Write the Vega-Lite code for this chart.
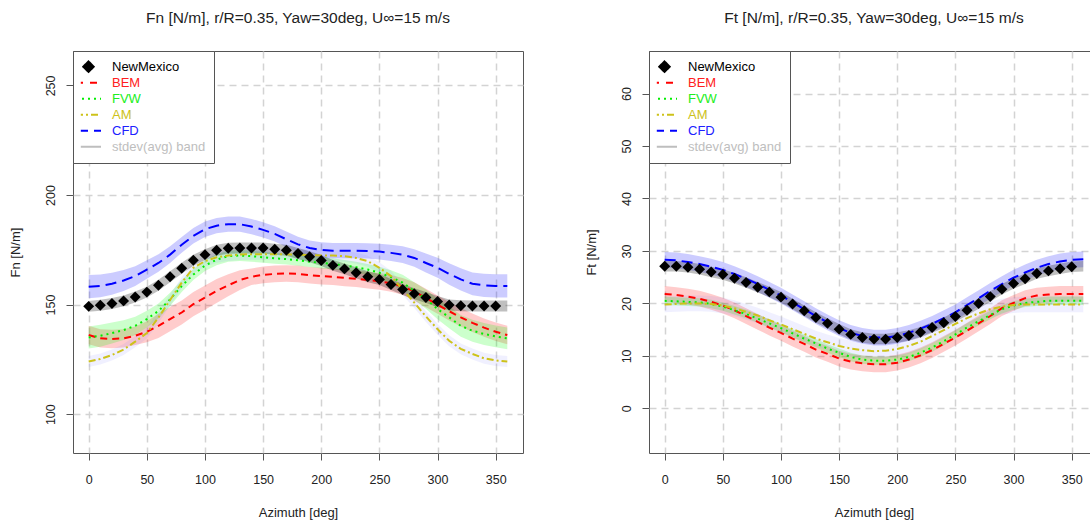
{
  "$schema": "https://vega.github.io/schema/vega-lite/v6.json",
  "background": "white",
  "padding": {"left": 8, "top": 10, "right": 0, "bottom": 0},
  "spacing": 60,
  "config": {
    "font": "Liberation Sans",
    "view": {"stroke": "#555555", "strokeWidth": 1, "fill": "white"},
    "axis": {"domain": false, "grid": true, "gridColor": "#d3d3d3", "gridDash": [7, 5], "gridWidth": 1.5, "tickColor": "#555555", "tickSize": 7, "labelFontSize": 12.5, "labelColor": "#222222", "titleFontSize": 13, "titleFontWeight": "normal", "titleColor": "#222222", "labelFlush": false, "labelOverlap": false},
    "title": {"fontSize": 15.5, "fontWeight": "normal", "color": "#222222", "offset": 24, "frame": "group", "anchor": "middle"}
  },
  "datasets": {
    "fn": [
      {"s":"CFD","a":0,"y":158.2,"lo":152.9,"hi":163.5},{"s":"CFD","a":10,"y":158.5,"lo":153.3,"hi":163.7},{"s":"CFD","a":20,"y":159.5,"lo":154.5,"hi":164.5},{"s":"CFD","a":30,"y":161.0,"lo":156.2,"hi":165.8},{"s":"CFD","a":40,"y":163.0,"lo":158.5,"hi":167.5},{"s":"CFD","a":50,"y":166.0,"lo":161.8,"hi":170.2},{"s":"CFD","a":60,"y":169.0,"lo":165.0,"hi":173.0},{"s":"CFD","a":70,"y":172.8,"lo":169.0,"hi":176.6},{"s":"CFD","a":80,"y":177.3,"lo":173.7,"hi":180.9},{"s":"CFD","a":90,"y":181.4,"lo":177.9,"hi":184.9},{"s":"CFD","a":100,"y":184.4,"lo":180.9,"hi":187.9},{"s":"CFD","a":110,"y":186.0,"lo":182.5,"hi":189.5},{"s":"CFD","a":120,"y":186.7,"lo":183.2,"hi":190.2},{"s":"CFD","a":130,"y":186.7,"lo":183.2,"hi":190.2},{"s":"CFD","a":140,"y":185.6,"lo":182.1,"hi":189.1},{"s":"CFD","a":150,"y":184.1,"lo":180.6,"hi":187.6},{"s":"CFD","a":160,"y":182.3,"lo":178.8,"hi":185.8},{"s":"CFD","a":170,"y":179.8,"lo":176.3,"hi":183.3},{"s":"CFD","a":180,"y":177.5,"lo":174.0,"hi":181.0},{"s":"CFD","a":190,"y":175.8,"lo":172.3,"hi":179.3},{"s":"CFD","a":200,"y":174.9,"lo":171.4,"hi":178.4},{"s":"CFD","a":210,"y":174.6,"lo":171.1,"hi":178.1},{"s":"CFD","a":220,"y":174.6,"lo":171.1,"hi":178.1},{"s":"CFD","a":230,"y":174.6,"lo":171.1,"hi":178.1},{"s":"CFD","a":240,"y":174.5,"lo":171.0,"hi":178.0},{"s":"CFD","a":250,"y":174.2,"lo":170.6,"hi":177.8},{"s":"CFD","a":260,"y":173.6,"lo":169.9,"hi":177.3},{"s":"CFD","a":270,"y":172.8,"lo":169.0,"hi":176.6},{"s":"CFD","a":280,"y":171.3,"lo":167.3,"hi":175.3},{"s":"CFD","a":290,"y":169.0,"lo":164.7,"hi":173.3},{"s":"CFD","a":300,"y":166.8,"lo":162.2,"hi":171.4},{"s":"CFD","a":310,"y":164.0,"lo":159.1,"hi":168.9},{"s":"CFD","a":320,"y":161.5,"lo":156.4,"hi":166.6},{"s":"CFD","a":330,"y":159.5,"lo":154.3,"hi":164.7},{"s":"CFD","a":340,"y":158.8,"lo":153.5,"hi":164.1},{"s":"CFD","a":350,"y":158.5,"lo":153.2,"hi":163.8},{"s":"CFD","a":360,"y":158.5,"lo":153.2,"hi":163.8},
      {"s":"BEM","a":0,"y":136.1,"lo":131.9,"hi":140.3},{"s":"BEM","a":10,"y":134.6,"lo":130.4,"hi":138.8},{"s":"BEM","a":20,"y":134.3,"lo":130.1,"hi":138.5},{"s":"BEM","a":30,"y":134.6,"lo":130.4,"hi":138.8},{"s":"BEM","a":40,"y":135.8,"lo":131.6,"hi":140.0},{"s":"BEM","a":50,"y":137.6,"lo":132.8,"hi":142.4},{"s":"BEM","a":60,"y":140.3,"lo":134.8,"hi":145.8},{"s":"BEM","a":70,"y":143.4,"lo":137.9,"hi":148.9},{"s":"BEM","a":80,"y":146.4,"lo":140.9,"hi":151.9},{"s":"BEM","a":90,"y":150.2,"lo":144.7,"hi":155.7},{"s":"BEM","a":100,"y":153.2,"lo":147.7,"hi":158.7},{"s":"BEM","a":110,"y":156.2,"lo":150.7,"hi":161.7},{"s":"BEM","a":120,"y":158.8,"lo":153.8,"hi":163.8},{"s":"BEM","a":130,"y":161.2,"lo":156.7,"hi":165.7},{"s":"BEM","a":140,"y":162.7,"lo":158.9,"hi":166.5},{"s":"BEM","a":150,"y":163.6,"lo":159.8,"hi":167.4},{"s":"BEM","a":160,"y":164.0,"lo":160.2,"hi":167.8},{"s":"BEM","a":170,"y":164.2,"lo":160.4,"hi":168.0},{"s":"BEM","a":180,"y":164.0,"lo":160.2,"hi":167.8},{"s":"BEM","a":190,"y":163.4,"lo":159.6,"hi":167.2},{"s":"BEM","a":200,"y":163.0,"lo":159.2,"hi":166.8},{"s":"BEM","a":210,"y":162.7,"lo":158.9,"hi":166.5},{"s":"BEM","a":220,"y":162.2,"lo":158.4,"hi":166.0},{"s":"BEM","a":230,"y":161.8,"lo":158.0,"hi":165.6},{"s":"BEM","a":240,"y":161.2,"lo":157.4,"hi":165.0},{"s":"BEM","a":250,"y":160.6,"lo":156.8,"hi":164.4},{"s":"BEM","a":260,"y":159.7,"lo":155.9,"hi":163.5},{"s":"BEM","a":270,"y":158.3,"lo":154.5,"hi":162.1},{"s":"BEM","a":280,"y":156.0,"lo":151.8,"hi":160.2},{"s":"BEM","a":290,"y":153.0,"lo":148.8,"hi":157.2},{"s":"BEM","a":300,"y":150.0,"lo":145.8,"hi":154.2},{"s":"BEM","a":310,"y":147.0,"lo":142.8,"hi":151.2},{"s":"BEM","a":320,"y":144.2,"lo":140.0,"hi":148.4},{"s":"BEM","a":330,"y":141.7,"lo":137.5,"hi":145.9},{"s":"BEM","a":340,"y":139.5,"lo":135.3,"hi":143.7},{"s":"BEM","a":350,"y":137.6,"lo":133.4,"hi":141.8},{"s":"BEM","a":360,"y":136.1,"lo":131.9,"hi":140.3},
      {"s":"FVW","a":0,"y":135.0,"lo":130.0,"hi":140.0},{"s":"FVW","a":10,"y":135.8,"lo":130.8,"hi":140.8},{"s":"FVW","a":20,"y":137.0,"lo":132.2,"hi":141.8},{"s":"FVW","a":30,"y":138.4,"lo":133.9,"hi":142.9},{"s":"FVW","a":40,"y":140.3,"lo":136.1,"hi":144.5},{"s":"FVW","a":50,"y":143.4,"lo":139.6,"hi":147.2},{"s":"FVW","a":60,"y":147.1,"lo":143.7,"hi":150.5},{"s":"FVW","a":70,"y":152.4,"lo":149.4,"hi":155.4},{"s":"FVW","a":80,"y":158.5,"lo":155.8,"hi":161.2},{"s":"FVW","a":90,"y":163.7,"lo":161.2,"hi":166.2},{"s":"FVW","a":100,"y":167.8,"lo":165.3,"hi":170.3},{"s":"FVW","a":110,"y":170.5,"lo":168.0,"hi":173.0},{"s":"FVW","a":120,"y":172.1,"lo":169.6,"hi":174.6},{"s":"FVW","a":130,"y":172.4,"lo":169.9,"hi":174.9},{"s":"FVW","a":140,"y":172.1,"lo":169.6,"hi":174.6},{"s":"FVW","a":150,"y":171.6,"lo":169.1,"hi":174.1},{"s":"FVW","a":160,"y":171.1,"lo":168.6,"hi":173.6},{"s":"FVW","a":170,"y":170.8,"lo":168.3,"hi":173.3},{"s":"FVW","a":180,"y":170.2,"lo":167.7,"hi":172.7},{"s":"FVW","a":190,"y":169.6,"lo":167.1,"hi":172.1},{"s":"FVW","a":200,"y":169.0,"lo":166.5,"hi":171.5},{"s":"FVW","a":210,"y":168.6,"lo":166.1,"hi":171.1},{"s":"FVW","a":220,"y":167.8,"lo":165.3,"hi":170.3},{"s":"FVW","a":230,"y":167.1,"lo":164.6,"hi":169.6},{"s":"FVW","a":240,"y":166.0,"lo":163.5,"hi":168.5},{"s":"FVW","a":250,"y":164.5,"lo":161.7,"hi":167.3},{"s":"FVW","a":260,"y":162.5,"lo":159.3,"hi":165.7},{"s":"FVW","a":270,"y":160.0,"lo":156.4,"hi":163.6},{"s":"FVW","a":280,"y":156.2,"lo":152.2,"hi":160.2},{"s":"FVW","a":290,"y":152.5,"lo":148.1,"hi":156.9},{"s":"FVW","a":300,"y":148.0,"lo":143.3,"hi":152.7},{"s":"FVW","a":310,"y":144.2,"lo":139.2,"hi":149.2},{"s":"FVW","a":320,"y":140.3,"lo":135.3,"hi":145.3},{"s":"FVW","a":330,"y":138.1,"lo":133.1,"hi":143.1},{"s":"FVW","a":340,"y":136.6,"lo":131.6,"hi":141.6},{"s":"FVW","a":350,"y":135.5,"lo":130.5,"hi":140.5},{"s":"FVW","a":360,"y":134.6,"lo":129.6,"hi":139.6},
      {"s":"AM","a":0,"y":124.0,"lo":121.5,"hi":126.5},{"s":"AM","a":10,"y":125.2,"lo":122.7,"hi":127.7},{"s":"AM","a":20,"y":127.0,"lo":124.5,"hi":129.5},{"s":"AM","a":30,"y":129.5,"lo":127.0,"hi":132.0},{"s":"AM","a":40,"y":133.1,"lo":130.6,"hi":135.6},{"s":"AM","a":50,"y":137.0,"lo":134.5,"hi":139.5},{"s":"AM","a":60,"y":144.1,"lo":141.6,"hi":146.6},{"s":"AM","a":70,"y":152.1,"lo":149.6,"hi":154.6},{"s":"AM","a":80,"y":160.0,"lo":157.5,"hi":162.5},{"s":"AM","a":90,"y":166.8,"lo":164.3,"hi":169.3},{"s":"AM","a":100,"y":169.8,"lo":167.3,"hi":172.3},{"s":"AM","a":110,"y":171.6,"lo":169.1,"hi":174.1},{"s":"AM","a":120,"y":172.4,"lo":169.9,"hi":174.9},{"s":"AM","a":130,"y":172.8,"lo":170.3,"hi":175.3},{"s":"AM","a":140,"y":173.0,"lo":170.5,"hi":175.5},{"s":"AM","a":150,"y":173.0,"lo":170.5,"hi":175.5},{"s":"AM","a":160,"y":173.0,"lo":170.5,"hi":175.5},{"s":"AM","a":170,"y":173.0,"lo":170.5,"hi":175.5},{"s":"AM","a":180,"y":172.8,"lo":170.3,"hi":175.3},{"s":"AM","a":190,"y":172.6,"lo":170.1,"hi":175.1},{"s":"AM","a":200,"y":172.4,"lo":169.9,"hi":174.9},{"s":"AM","a":210,"y":172.4,"lo":169.9,"hi":174.9},{"s":"AM","a":220,"y":172.1,"lo":169.6,"hi":174.6},{"s":"AM","a":230,"y":171.3,"lo":168.8,"hi":173.8},{"s":"AM","a":240,"y":169.8,"lo":167.3,"hi":172.3},{"s":"AM","a":250,"y":166.8,"lo":164.3,"hi":169.3},{"s":"AM","a":260,"y":163.0,"lo":160.5,"hi":165.5},{"s":"AM","a":270,"y":156.9,"lo":154.4,"hi":159.4},{"s":"AM","a":280,"y":150.9,"lo":148.4,"hi":153.4},{"s":"AM","a":290,"y":144.6,"lo":142.1,"hi":147.1},{"s":"AM","a":300,"y":138.8,"lo":136.3,"hi":141.3},{"s":"AM","a":310,"y":133.5,"lo":131.0,"hi":136.0},{"s":"AM","a":320,"y":129.8,"lo":127.3,"hi":132.3},{"s":"AM","a":330,"y":127.5,"lo":125.0,"hi":130.0},{"s":"AM","a":340,"y":125.5,"lo":123.0,"hi":128.0},{"s":"AM","a":350,"y":124.5,"lo":122.0,"hi":127.0},{"s":"AM","a":360,"y":124.0,"lo":121.5,"hi":126.5},
      {"s":"NewMexico","a":0,"y":149.2,"lo":146.7,"hi":151.7},{"s":"NewMexico","a":10,"y":149.7,"lo":147.2,"hi":152.2},{"s":"NewMexico","a":20,"y":150.5,"lo":148.0,"hi":153.0},{"s":"NewMexico","a":30,"y":151.7,"lo":149.2,"hi":154.2},{"s":"NewMexico","a":40,"y":153.5,"lo":151.0,"hi":156.0},{"s":"NewMexico","a":50,"y":155.7,"lo":153.2,"hi":158.2},{"s":"NewMexico","a":60,"y":158.8,"lo":156.3,"hi":161.3},{"s":"NewMexico","a":70,"y":162.7,"lo":160.2,"hi":165.2},{"s":"NewMexico","a":80,"y":166.6,"lo":164.1,"hi":169.1},{"s":"NewMexico","a":90,"y":170.2,"lo":167.7,"hi":172.7},{"s":"NewMexico","a":100,"y":172.8,"lo":170.3,"hi":175.3},{"s":"NewMexico","a":110,"y":174.8,"lo":172.3,"hi":177.3},{"s":"NewMexico","a":120,"y":175.7,"lo":173.2,"hi":178.2},{"s":"NewMexico","a":130,"y":175.8,"lo":173.3,"hi":178.3},{"s":"NewMexico","a":140,"y":175.8,"lo":173.3,"hi":178.3},{"s":"NewMexico","a":150,"y":175.8,"lo":173.3,"hi":178.3},{"s":"NewMexico","a":160,"y":175.3,"lo":172.8,"hi":177.8},{"s":"NewMexico","a":170,"y":174.8,"lo":172.3,"hi":177.3},{"s":"NewMexico","a":180,"y":173.3,"lo":170.8,"hi":175.8},{"s":"NewMexico","a":190,"y":171.8,"lo":169.3,"hi":174.3},{"s":"NewMexico","a":200,"y":170.1,"lo":167.6,"hi":172.6},{"s":"NewMexico","a":210,"y":167.9,"lo":165.4,"hi":170.4},{"s":"NewMexico","a":220,"y":166.3,"lo":163.8,"hi":168.8},{"s":"NewMexico","a":230,"y":164.5,"lo":162.0,"hi":167.0},{"s":"NewMexico","a":240,"y":162.7,"lo":160.2,"hi":165.2},{"s":"NewMexico","a":250,"y":161.5,"lo":159.0,"hi":164.0},{"s":"NewMexico","a":260,"y":159.2,"lo":156.7,"hi":161.7},{"s":"NewMexico","a":270,"y":156.9,"lo":154.4,"hi":159.4},{"s":"NewMexico","a":280,"y":155.0,"lo":152.5,"hi":157.5},{"s":"NewMexico","a":290,"y":153.2,"lo":150.7,"hi":155.7},{"s":"NewMexico","a":300,"y":151.4,"lo":148.9,"hi":153.9},{"s":"NewMexico","a":310,"y":149.8,"lo":147.3,"hi":152.3},{"s":"NewMexico","a":320,"y":149.5,"lo":147.0,"hi":152.0},{"s":"NewMexico","a":330,"y":149.4,"lo":146.9,"hi":151.9},{"s":"NewMexico","a":340,"y":149.4,"lo":146.9,"hi":151.9},{"s":"NewMexico","a":350,"y":149.4,"lo":146.9,"hi":151.9},{"s":"NewMexico","a":360,"y":149.4,"lo":146.9,"hi":151.9}
    ],
    "ft": [
      {"s":"CFD","a":0,"y":28.3,"lo":26.8,"hi":29.8},{"s":"CFD","a":10,"y":28.2,"lo":26.7,"hi":29.7},{"s":"CFD","a":20,"y":27.9,"lo":26.4,"hi":29.4},{"s":"CFD","a":30,"y":27.5,"lo":26.0,"hi":29.0},{"s":"CFD","a":40,"y":27.0,"lo":25.5,"hi":28.5},{"s":"CFD","a":50,"y":26.4,"lo":24.9,"hi":27.9},{"s":"CFD","a":60,"y":25.6,"lo":24.1,"hi":27.1},{"s":"CFD","a":70,"y":24.7,"lo":23.2,"hi":26.2},{"s":"CFD","a":80,"y":23.7,"lo":22.2,"hi":25.2},{"s":"CFD","a":90,"y":22.6,"lo":21.1,"hi":24.1},{"s":"CFD","a":100,"y":21.5,"lo":20.0,"hi":23.0},{"s":"CFD","a":110,"y":20.2,"lo":18.7,"hi":21.7},{"s":"CFD","a":120,"y":18.9,"lo":17.4,"hi":20.4},{"s":"CFD","a":130,"y":17.6,"lo":16.1,"hi":19.1},{"s":"CFD","a":140,"y":16.4,"lo":14.9,"hi":17.9},{"s":"CFD","a":150,"y":15.3,"lo":13.8,"hi":16.8},{"s":"CFD","a":160,"y":14.4,"lo":12.9,"hi":15.9},{"s":"CFD","a":170,"y":13.8,"lo":12.3,"hi":15.3},{"s":"CFD","a":180,"y":13.5,"lo":12.0,"hi":15.0},{"s":"CFD","a":190,"y":13.5,"lo":12.0,"hi":15.0},{"s":"CFD","a":200,"y":13.8,"lo":12.3,"hi":15.3},{"s":"CFD","a":210,"y":14.4,"lo":12.9,"hi":15.9},{"s":"CFD","a":220,"y":15.2,"lo":13.7,"hi":16.7},{"s":"CFD","a":230,"y":16.1,"lo":14.6,"hi":17.6},{"s":"CFD","a":240,"y":17.2,"lo":15.7,"hi":18.7},{"s":"CFD","a":250,"y":18.3,"lo":16.8,"hi":19.8},{"s":"CFD","a":260,"y":19.7,"lo":18.2,"hi":21.2},{"s":"CFD","a":270,"y":21.0,"lo":19.5,"hi":22.5},{"s":"CFD","a":280,"y":22.4,"lo":20.9,"hi":23.9},{"s":"CFD","a":290,"y":23.7,"lo":22.2,"hi":25.2},{"s":"CFD","a":300,"y":24.9,"lo":23.4,"hi":26.4},{"s":"CFD","a":310,"y":25.9,"lo":24.4,"hi":27.4},{"s":"CFD","a":320,"y":26.8,"lo":25.3,"hi":28.3},{"s":"CFD","a":330,"y":27.5,"lo":26.0,"hi":29.0},{"s":"CFD","a":340,"y":28.0,"lo":26.5,"hi":29.5},{"s":"CFD","a":350,"y":28.3,"lo":26.8,"hi":29.8},{"s":"CFD","a":360,"y":28.4,"lo":26.9,"hi":29.9},
      {"s":"BEM","a":0,"y":21.8,"lo":20.3,"hi":23.3},{"s":"BEM","a":10,"y":21.6,"lo":20.1,"hi":23.1},{"s":"BEM","a":20,"y":21.3,"lo":19.8,"hi":22.8},{"s":"BEM","a":30,"y":20.9,"lo":19.4,"hi":22.4},{"s":"BEM","a":40,"y":20.3,"lo":18.8,"hi":21.8},{"s":"BEM","a":50,"y":19.6,"lo":18.1,"hi":21.1},{"s":"BEM","a":60,"y":18.7,"lo":17.2,"hi":20.2},{"s":"BEM","a":70,"y":17.6,"lo":16.1,"hi":19.1},{"s":"BEM","a":80,"y":16.5,"lo":15.0,"hi":18.0},{"s":"BEM","a":90,"y":15.4,"lo":13.9,"hi":16.9},{"s":"BEM","a":100,"y":14.4,"lo":12.9,"hi":15.9},{"s":"BEM","a":110,"y":13.3,"lo":11.8,"hi":14.8},{"s":"BEM","a":120,"y":12.3,"lo":10.8,"hi":13.8},{"s":"BEM","a":130,"y":11.2,"lo":9.7,"hi":12.7},{"s":"BEM","a":140,"y":10.4,"lo":8.9,"hi":11.9},{"s":"BEM","a":150,"y":9.5,"lo":8.0,"hi":11.0},{"s":"BEM","a":160,"y":8.9,"lo":7.4,"hi":10.4},{"s":"BEM","a":170,"y":8.6,"lo":7.1,"hi":10.1},{"s":"BEM","a":180,"y":8.4,"lo":6.9,"hi":9.9},{"s":"BEM","a":190,"y":8.4,"lo":6.9,"hi":9.9},{"s":"BEM","a":200,"y":8.7,"lo":7.2,"hi":10.2},{"s":"BEM","a":210,"y":9.3,"lo":7.8,"hi":10.8},{"s":"BEM","a":220,"y":10.1,"lo":8.6,"hi":11.6},{"s":"BEM","a":230,"y":11.1,"lo":9.6,"hi":12.6},{"s":"BEM","a":240,"y":12.3,"lo":10.8,"hi":13.8},{"s":"BEM","a":250,"y":13.5,"lo":12.0,"hi":15.0},{"s":"BEM","a":260,"y":14.8,"lo":13.3,"hi":16.3},{"s":"BEM","a":270,"y":16.2,"lo":14.7,"hi":17.7},{"s":"BEM","a":280,"y":17.6,"lo":16.1,"hi":19.1},{"s":"BEM","a":290,"y":19.1,"lo":17.6,"hi":20.6},{"s":"BEM","a":300,"y":20.1,"lo":18.6,"hi":21.6},{"s":"BEM","a":310,"y":21.0,"lo":19.5,"hi":22.5},{"s":"BEM","a":320,"y":21.5,"lo":20.0,"hi":23.0},{"s":"BEM","a":330,"y":21.7,"lo":20.2,"hi":23.2},{"s":"BEM","a":340,"y":21.8,"lo":20.3,"hi":23.3},{"s":"BEM","a":350,"y":21.8,"lo":20.3,"hi":23.3},{"s":"BEM","a":360,"y":21.8,"lo":20.3,"hi":23.3},
      {"s":"FVW","a":0,"y":20.5,"lo":19.7,"hi":21.3},{"s":"FVW","a":10,"y":20.4,"lo":19.6,"hi":21.2},{"s":"FVW","a":20,"y":20.3,"lo":19.5,"hi":21.1},{"s":"FVW","a":30,"y":20.2,"lo":19.4,"hi":21.0},{"s":"FVW","a":40,"y":19.9,"lo":19.1,"hi":20.7},{"s":"FVW","a":50,"y":19.4,"lo":18.6,"hi":20.2},{"s":"FVW","a":60,"y":18.7,"lo":17.9,"hi":19.5},{"s":"FVW","a":70,"y":18.0,"lo":17.2,"hi":18.8},{"s":"FVW","a":80,"y":17.1,"lo":16.3,"hi":17.9},{"s":"FVW","a":90,"y":16.2,"lo":15.4,"hi":17.0},{"s":"FVW","a":100,"y":15.3,"lo":14.5,"hi":16.1},{"s":"FVW","a":110,"y":14.3,"lo":13.5,"hi":15.1},{"s":"FVW","a":120,"y":13.3,"lo":12.5,"hi":14.1},{"s":"FVW","a":130,"y":12.4,"lo":11.6,"hi":13.2},{"s":"FVW","a":140,"y":11.4,"lo":10.6,"hi":12.2},{"s":"FVW","a":150,"y":10.6,"lo":9.8,"hi":11.4},{"s":"FVW","a":160,"y":9.8,"lo":9.0,"hi":10.6},{"s":"FVW","a":170,"y":9.3,"lo":8.5,"hi":10.1},{"s":"FVW","a":180,"y":9.1,"lo":8.3,"hi":9.9},{"s":"FVW","a":190,"y":9.1,"lo":8.3,"hi":9.9},{"s":"FVW","a":200,"y":9.3,"lo":8.5,"hi":10.1},{"s":"FVW","a":210,"y":9.8,"lo":9.0,"hi":10.6},{"s":"FVW","a":220,"y":10.6,"lo":9.8,"hi":11.4},{"s":"FVW","a":230,"y":11.6,"lo":10.8,"hi":12.4},{"s":"FVW","a":240,"y":12.8,"lo":12.0,"hi":13.6},{"s":"FVW","a":250,"y":14.1,"lo":13.3,"hi":14.9},{"s":"FVW","a":260,"y":15.4,"lo":14.6,"hi":16.2},{"s":"FVW","a":270,"y":16.6,"lo":15.8,"hi":17.4},{"s":"FVW","a":280,"y":17.8,"lo":17.0,"hi":18.6},{"s":"FVW","a":290,"y":18.9,"lo":18.1,"hi":19.7},{"s":"FVW","a":300,"y":19.6,"lo":18.8,"hi":20.4},{"s":"FVW","a":310,"y":20.1,"lo":19.3,"hi":20.9},{"s":"FVW","a":320,"y":20.3,"lo":19.5,"hi":21.1},{"s":"FVW","a":330,"y":20.5,"lo":19.7,"hi":21.3},{"s":"FVW","a":340,"y":20.5,"lo":19.7,"hi":21.3},{"s":"FVW","a":350,"y":20.5,"lo":19.7,"hi":21.3},{"s":"FVW","a":360,"y":20.5,"lo":19.7,"hi":21.3},
      {"s":"AM","a":0,"y":19.8,"lo":18.3,"hi":21.3},{"s":"AM","a":10,"y":19.9,"lo":18.4,"hi":21.4},{"s":"AM","a":20,"y":20.0,"lo":18.5,"hi":21.5},{"s":"AM","a":30,"y":20.0,"lo":18.5,"hi":21.5},{"s":"AM","a":40,"y":19.9,"lo":18.4,"hi":21.4},{"s":"AM","a":50,"y":19.6,"lo":18.1,"hi":21.1},{"s":"AM","a":60,"y":19.1,"lo":17.6,"hi":20.6},{"s":"AM","a":70,"y":18.4,"lo":16.9,"hi":19.9},{"s":"AM","a":80,"y":17.7,"lo":16.2,"hi":19.2},{"s":"AM","a":90,"y":16.8,"lo":15.3,"hi":18.3},{"s":"AM","a":100,"y":16.0,"lo":14.5,"hi":17.5},{"s":"AM","a":110,"y":15.1,"lo":13.6,"hi":16.6},{"s":"AM","a":120,"y":14.2,"lo":12.7,"hi":15.7},{"s":"AM","a":130,"y":13.3,"lo":11.8,"hi":14.8},{"s":"AM","a":140,"y":12.6,"lo":11.1,"hi":14.1},{"s":"AM","a":150,"y":11.9,"lo":10.4,"hi":13.4},{"s":"AM","a":160,"y":11.4,"lo":9.9,"hi":12.9},{"s":"AM","a":170,"y":11.1,"lo":9.6,"hi":12.6},{"s":"AM","a":180,"y":10.9,"lo":9.4,"hi":12.4},{"s":"AM","a":190,"y":11.0,"lo":9.5,"hi":12.5},{"s":"AM","a":200,"y":11.3,"lo":9.8,"hi":12.8},{"s":"AM","a":210,"y":11.9,"lo":10.4,"hi":13.4},{"s":"AM","a":220,"y":12.7,"lo":11.2,"hi":14.2},{"s":"AM","a":230,"y":13.8,"lo":12.3,"hi":15.3},{"s":"AM","a":240,"y":14.9,"lo":13.4,"hi":16.4},{"s":"AM","a":250,"y":16.1,"lo":14.6,"hi":17.6},{"s":"AM","a":260,"y":17.2,"lo":15.7,"hi":18.7},{"s":"AM","a":270,"y":18.1,"lo":16.6,"hi":19.6},{"s":"AM","a":280,"y":18.9,"lo":17.4,"hi":20.4},{"s":"AM","a":290,"y":19.4,"lo":17.9,"hi":20.9},{"s":"AM","a":300,"y":19.7,"lo":18.2,"hi":21.2},{"s":"AM","a":310,"y":19.8,"lo":18.3,"hi":21.3},{"s":"AM","a":320,"y":19.8,"lo":18.3,"hi":21.3},{"s":"AM","a":330,"y":19.8,"lo":18.3,"hi":21.3},{"s":"AM","a":340,"y":19.8,"lo":18.3,"hi":21.3},{"s":"AM","a":350,"y":19.8,"lo":18.3,"hi":21.3},{"s":"AM","a":360,"y":19.8,"lo":18.3,"hi":21.3},
      {"s":"NewMexico","a":0,"y":27.1,"lo":26.1,"hi":28.1},{"s":"NewMexico","a":10,"y":27.1,"lo":26.1,"hi":28.1},{"s":"NewMexico","a":20,"y":26.9,"lo":25.9,"hi":27.9},{"s":"NewMexico","a":30,"y":26.5,"lo":25.5,"hi":27.5},{"s":"NewMexico","a":40,"y":26.0,"lo":25.0,"hi":27.0},{"s":"NewMexico","a":50,"y":25.5,"lo":24.5,"hi":26.5},{"s":"NewMexico","a":60,"y":24.8,"lo":23.8,"hi":25.8},{"s":"NewMexico","a":70,"y":24.0,"lo":23.0,"hi":25.0},{"s":"NewMexico","a":80,"y":23.1,"lo":22.1,"hi":24.1},{"s":"NewMexico","a":90,"y":22.2,"lo":21.2,"hi":23.2},{"s":"NewMexico","a":100,"y":21.2,"lo":20.2,"hi":22.2},{"s":"NewMexico","a":110,"y":19.9,"lo":18.9,"hi":20.9},{"s":"NewMexico","a":120,"y":18.6,"lo":17.6,"hi":19.6},{"s":"NewMexico","a":130,"y":17.3,"lo":16.3,"hi":18.3},{"s":"NewMexico","a":140,"y":16.2,"lo":15.2,"hi":17.2},{"s":"NewMexico","a":150,"y":15.1,"lo":14.1,"hi":16.1},{"s":"NewMexico","a":160,"y":14.1,"lo":13.1,"hi":15.1},{"s":"NewMexico","a":170,"y":13.5,"lo":12.5,"hi":14.5},{"s":"NewMexico","a":180,"y":13.2,"lo":12.2,"hi":14.2},{"s":"NewMexico","a":190,"y":13.2,"lo":12.2,"hi":14.2},{"s":"NewMexico","a":200,"y":13.5,"lo":12.5,"hi":14.5},{"s":"NewMexico","a":210,"y":13.9,"lo":12.9,"hi":14.9},{"s":"NewMexico","a":220,"y":14.5,"lo":13.5,"hi":15.5},{"s":"NewMexico","a":230,"y":15.4,"lo":14.4,"hi":16.4},{"s":"NewMexico","a":240,"y":16.3,"lo":15.3,"hi":17.3},{"s":"NewMexico","a":250,"y":17.5,"lo":16.5,"hi":18.5},{"s":"NewMexico","a":260,"y":18.7,"lo":17.7,"hi":19.7},{"s":"NewMexico","a":270,"y":20.0,"lo":19.0,"hi":21.0},{"s":"NewMexico","a":280,"y":21.3,"lo":20.3,"hi":22.3},{"s":"NewMexico","a":290,"y":22.7,"lo":21.7,"hi":23.7},{"s":"NewMexico","a":300,"y":23.8,"lo":22.8,"hi":24.8},{"s":"NewMexico","a":310,"y":24.7,"lo":23.7,"hi":25.7},{"s":"NewMexico","a":320,"y":25.7,"lo":24.7,"hi":26.7},{"s":"NewMexico","a":330,"y":26.2,"lo":25.2,"hi":27.2},{"s":"NewMexico","a":340,"y":26.6,"lo":25.6,"hi":27.6},{"s":"NewMexico","a":350,"y":27.0,"lo":26.0,"hi":28.0},{"s":"NewMexico","a":360,"y":27.1,"lo":26.1,"hi":28.1}
    ]
  },
  "resolve": {"scale": {"x": "independent", "y": "independent", "color": "independent", "fill": "independent", "strokeDash": "independent"}, "legend": {"color": "independent"}},
  "hconcat": [
    {
      "width": 450, "height": 402,
      "title": {"text": "Fn [N/m], r/R=0.35, Yaw=30deg, U∞=15 m/s"},
      "data": {"name": "fn"},
      "encoding": {
        "x": {"field": "a", "type": "quantitative", "scale": {"domain": [-13.5, 373.5], "nice": false, "zero": false}, "axis": {"values": [0, 50, 100, 150, 200, 250, 300, 350], "labelPadding": 13, "title": "Azimuth [deg]", "titleX": 225, "titleY": 59, "titleBaseline": "middle", "titleAlign": "center"}}
      },
      "layer": [
        {
          "mark": {"type": "area"},
          "encoding": {
            "y": {"field": "lo", "type": "quantitative", "scale": {"domain": [82.3, 265.7], "nice": false, "zero": false}, "axis": {"values": [100, 150, 200, 250], "labelAngle": -90, "labelAlign": "center", "labelBaseline": "alphabetic", "labelPadding": 12, "title": "Fn [N/m]", "titleX": -51, "titleY": 201, "titleAngle": -90, "titleAlign": "center", "titleBaseline": "bottom"}},
            "y2": {"field": "hi"},
            "fill": {"field": "s", "type": "nominal", "scale": {"domain": ["BEM", "FVW", "AM", "CFD", "NewMexico"], "range": ["rgba(255,0,0,0.2)", "rgba(0,255,0,0.2)", "rgba(110,110,255,0.1)", "rgba(0,0,255,0.2)", "rgba(0,0,0,0.25)"]}, "legend": null}
          }
        },
        {
          "transform": [{"filter": "datum.s !== 'NewMexico'"}],
          "mark": {"type": "line", "strokeWidth": 2},
          "encoding": {
            "y": {"field": "y", "type": "quantitative", "scale": {"domain": [82.3, 265.7], "nice": false, "zero": false}, "axis": {"values": [100, 150, 200, 250], "labelAngle": -90, "labelAlign": "center", "labelBaseline": "alphabetic", "labelPadding": 12, "title": "Fn [N/m]", "titleX": -51, "titleY": 201, "titleAngle": -90, "titleAlign": "center", "titleBaseline": "bottom"}},
            "strokeDash": {"field": "s", "type": "nominal", "scale": {"domain": ["BEM", "FVW", "AM", "CFD"], "range": [[7, 5], [2, 4], [7, 3, 2, 3], [11, 6]]}, "legend": null},
            "color": {"field": "s", "type": "nominal", "scale": {"domain": ["NewMexico", "BEM", "FVW", "AM", "CFD", "stdev(avg) band"], "range": ["#000000", "#ff0000", "#00ee00", "#cdc21a", "#0000ff", "#bebebe"]},
              "legend": {"orient": "top-left", "offset": 0, "title": null, "padding": 7.8, "strokeColor": "#555555", "fillColor": "white", "cornerRadius": 0, "columns": 1, "symbolType": "stroke", "symbolSize": 625, "symbolStrokeWidth": 2, "symbolOffset": -5.8, "labelOffset": 10, "labelFontSize": 13, "clipHeight": 15.8, "rowPadding": 0, "labelLimit": 300,
                "encode": {
                  "symbols": {"update": {
                    "shape": {"signal": "datum.value === 'NewMexico' ? 'diamond' : 'stroke'"},
                    "size": {"signal": "datum.value === 'NewMexico' ? 110 : 625"},
                    "fill": {"signal": "datum.value === 'NewMexico' ? '#000000' : 'transparent'"},
                    "stroke": {"signal": "datum.value === 'NewMexico' ? 'transparent' : datum.value === 'BEM' ? '#ff0000' : datum.value === 'FVW' ? '#00ee00' : datum.value === 'AM' ? '#cdc21a' : datum.value === 'CFD' ? '#0000ff' : '#d4d4d4'"},
                    "strokeDash": {"signal": "datum.value === 'BEM' ? [7,7] : datum.value === 'FVW' ? [2,4] : datum.value === 'AM' ? [7,3,2,3] : datum.value === 'CFD' ? [12,6] : [1,0]"},
                    "opacity": {"value": 1}
                  }},
                  "labels": {"update": {"fill": {"signal": "datum.value === 'NewMexico' ? '#000000' : datum.value === 'BEM' ? '#ff2020' : datum.value === 'FVW' ? '#20ee20' : datum.value === 'AM' ? '#cdc21a' : datum.value === 'CFD' ? '#2020ff' : '#bebebe'"}}}
                }
              }
            }
          }
        },
        {
          "transform": [{"filter": "datum.s === 'NewMexico' && datum.a < 360"}],
          "mark": {"type": "point", "shape": "diamond", "filled": true, "size": 120, "color": "#000000", "opacity": 1},
          "encoding": {
            "y": {"field": "y", "type": "quantitative", "scale": {"domain": [82.3, 265.7], "nice": false, "zero": false}, "axis": {"values": [100, 150, 200, 250], "labelAngle": -90, "labelAlign": "center", "labelBaseline": "alphabetic", "labelPadding": 12, "title": "Fn [N/m]", "titleX": -51, "titleY": 201, "titleAngle": -90, "titleAlign": "center", "titleBaseline": "bottom"}}
          }
        }
      ]
    },
    {
      "width": 450, "height": 402,
      "title": {"text": "Ft [N/m], r/R=0.35, Yaw=30deg, U∞=15 m/s"},
      "data": {"name": "ft"},
      "encoding": {
        "x": {"field": "a", "type": "quantitative", "scale": {"domain": [-13.5, 373.5], "nice": false, "zero": false}, "axis": {"values": [0, 50, 100, 150, 200, 250, 300, 350], "labelPadding": 13, "title": "Azimuth [deg]", "titleX": 225, "titleY": 59, "titleBaseline": "middle", "titleAlign": "center"}}
      },
      "layer": [
        {
          "mark": {"type": "area"},
          "encoding": {
            "y": {"field": "lo", "type": "quantitative", "scale": {"domain": [-8.5, 68.1], "nice": false, "zero": false}, "axis": {"values": [0, 10, 20, 30, 40, 50, 60], "labelAngle": -90, "labelAlign": "center", "labelBaseline": "alphabetic", "labelPadding": 12, "title": "Ft [N/m]", "titleX": -51, "titleY": 201, "titleAngle": -90, "titleAlign": "center", "titleBaseline": "bottom"}},
            "y2": {"field": "hi"},
            "fill": {"field": "s", "type": "nominal", "scale": {"domain": ["BEM", "FVW", "AM", "CFD", "NewMexico"], "range": ["rgba(255,0,0,0.2)", "rgba(0,255,0,0.2)", "rgba(110,110,255,0.1)", "rgba(0,0,255,0.2)", "rgba(0,0,0,0.25)"]}, "legend": null}
          }
        },
        {
          "transform": [{"filter": "datum.s !== 'NewMexico'"}],
          "mark": {"type": "line", "strokeWidth": 2},
          "encoding": {
            "y": {"field": "y", "type": "quantitative", "scale": {"domain": [-8.5, 68.1], "nice": false, "zero": false}, "axis": {"values": [0, 10, 20, 30, 40, 50, 60], "labelAngle": -90, "labelAlign": "center", "labelBaseline": "alphabetic", "labelPadding": 12, "title": "Ft [N/m]", "titleX": -51, "titleY": 201, "titleAngle": -90, "titleAlign": "center", "titleBaseline": "bottom"}},
            "strokeDash": {"field": "s", "type": "nominal", "scale": {"domain": ["BEM", "FVW", "AM", "CFD"], "range": [[7, 5], [2, 4], [7, 3, 2, 3], [11, 6]]}, "legend": null},
            "color": {"field": "s", "type": "nominal", "scale": {"domain": ["NewMexico", "BEM", "FVW", "AM", "CFD", "stdev(avg) band"], "range": ["#000000", "#ff0000", "#00ee00", "#cdc21a", "#0000ff", "#bebebe"]},
              "legend": {"orient": "top-left", "offset": 0, "title": null, "padding": 7.8, "strokeColor": "#555555", "fillColor": "white", "cornerRadius": 0, "columns": 1, "symbolType": "stroke", "symbolSize": 625, "symbolStrokeWidth": 2, "symbolOffset": -5.8, "labelOffset": 10, "labelFontSize": 13, "clipHeight": 15.8, "rowPadding": 0, "labelLimit": 300,
                "encode": {
                  "symbols": {"update": {
                    "shape": {"signal": "datum.value === 'NewMexico' ? 'diamond' : 'stroke'"},
                    "size": {"signal": "datum.value === 'NewMexico' ? 110 : 625"},
                    "fill": {"signal": "datum.value === 'NewMexico' ? '#000000' : 'transparent'"},
                    "stroke": {"signal": "datum.value === 'NewMexico' ? 'transparent' : datum.value === 'BEM' ? '#ff0000' : datum.value === 'FVW' ? '#00ee00' : datum.value === 'AM' ? '#cdc21a' : datum.value === 'CFD' ? '#0000ff' : '#d4d4d4'"},
                    "strokeDash": {"signal": "datum.value === 'BEM' ? [7,7] : datum.value === 'FVW' ? [2,4] : datum.value === 'AM' ? [7,3,2,3] : datum.value === 'CFD' ? [12,6] : [1,0]"},
                    "opacity": {"value": 1}
                  }},
                  "labels": {"update": {"fill": {"signal": "datum.value === 'NewMexico' ? '#000000' : datum.value === 'BEM' ? '#ff2020' : datum.value === 'FVW' ? '#20ee20' : datum.value === 'AM' ? '#cdc21a' : datum.value === 'CFD' ? '#2020ff' : '#bebebe'"}}}
                }
              }
            }
          }
        },
        {
          "transform": [{"filter": "datum.s === 'NewMexico' && datum.a < 360"}],
          "mark": {"type": "point", "shape": "diamond", "filled": true, "size": 120, "color": "#000000", "opacity": 1},
          "encoding": {
            "y": {"field": "y", "type": "quantitative", "scale": {"domain": [-8.5, 68.1], "nice": false, "zero": false}, "axis": {"values": [0, 10, 20, 30, 40, 50, 60], "labelAngle": -90, "labelAlign": "center", "labelBaseline": "alphabetic", "labelPadding": 12, "title": "Ft [N/m]", "titleX": -51, "titleY": 201, "titleAngle": -90, "titleAlign": "center", "titleBaseline": "bottom"}}
          }
        }
      ]
    }
  ]
}
